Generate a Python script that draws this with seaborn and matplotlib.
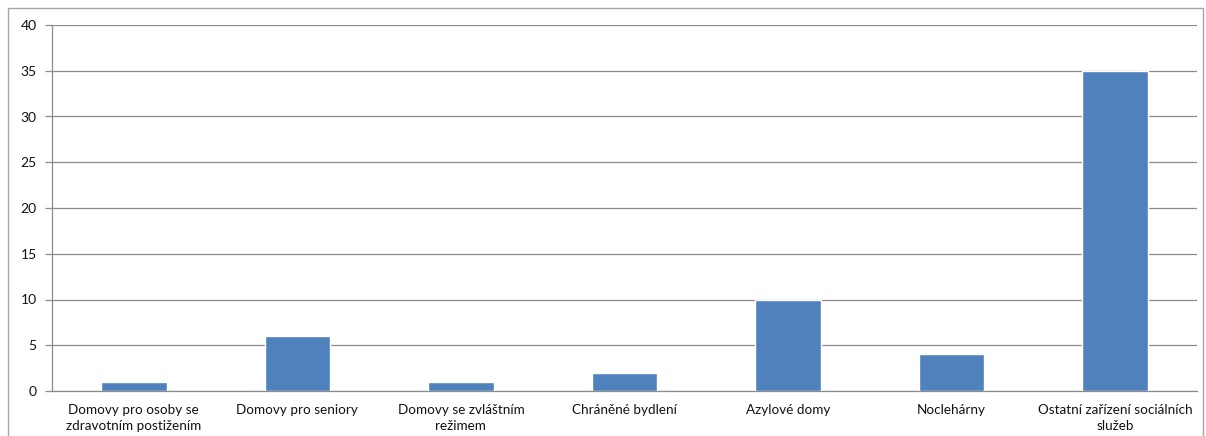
import matplotlib
matplotlib.use("Agg")
import matplotlib.pyplot as plt
import matplotlib.patches as mpatches
import seaborn as sns
import numpy as np
import pandas as pd

categories = [
    "Domovy pro osoby se\nzdravotním postižením",
    "Domovy pro seniory",
    "Domovy se zvláštním\nrežimem",
    "Chráněné bydlení",
    "Azylové domy",
    "Noclehárny",
    "Ostatní zařízení sociálních\nslužeb",
]
values = [1, 6, 1, 2, 10, 4, 35]
y_ticks = [0, 5, 10, 15, 20, 25, 30, 35, 40]

df = pd.DataFrame({"kategorie": categories, "pocet": values})

sns.set_style("white")
plt.rcParams["font.family"] = ["Lato", "DejaVu Sans"]

fig = plt.figure(figsize=(12.06, 4.36), dpi=100)
ax = fig.add_axes([52 / 1206, 1 - 391 / 436, (1197 - 52) / 1206, (391 - 25) / 436])

# outer chart frame
fig.patches.append(mpatches.Rectangle((8 / 1206, -0.05), (1203 - 8) / 1206, 1 - 8 / 436 + 0.05,
                                      transform=fig.transFigure, fill=False,
                                      edgecolor="#a6a6a6", linewidth=1.0))

sns.barplot(data=df, x="kategorie", y="pocet", color="#4f81bd", saturation=1,
            width=0.4, ax=ax, zorder=3)

ax.set_ylim(0, 40)
ax.set_xlim(-0.5, len(categories) - 0.5)
ax.set_yticks(y_ticks)
ax.set_yticklabels([str(v) for v in y_ticks], fontsize=10, color="#111111")
ax.yaxis.grid(True, color="#8c8c8c", linewidth=0.9, zorder=0)
ax.set_axisbelow(True)

ax.set_xticks(range(len(categories)))
ax.set_xticklabels(categories, fontsize=9.7, color="#111111", linespacing=1.4)
ax.tick_params(axis="x", which="major", length=0, pad=9)
ax.set_xticks(np.arange(-0.5, len(categories), 1.0), minor=True)
ax.tick_params(axis="x", which="minor", length=5, color="#8c8c8c", width=0.9, direction="out")
ax.tick_params(axis="y", length=5, color="#8c8c8c", width=0.9, direction="out", pad=6, left=True)

ax.set_xlabel("")
ax.set_ylabel("")
for side in ["top", "right"]:
    ax.spines[side].set_visible(False)
for side in ["left", "bottom"]:
    ax.spines[side].set_color("#8c8c8c")
    ax.spines[side].set_linewidth(0.9)

fig.savefig("out.png", dpi=100)
